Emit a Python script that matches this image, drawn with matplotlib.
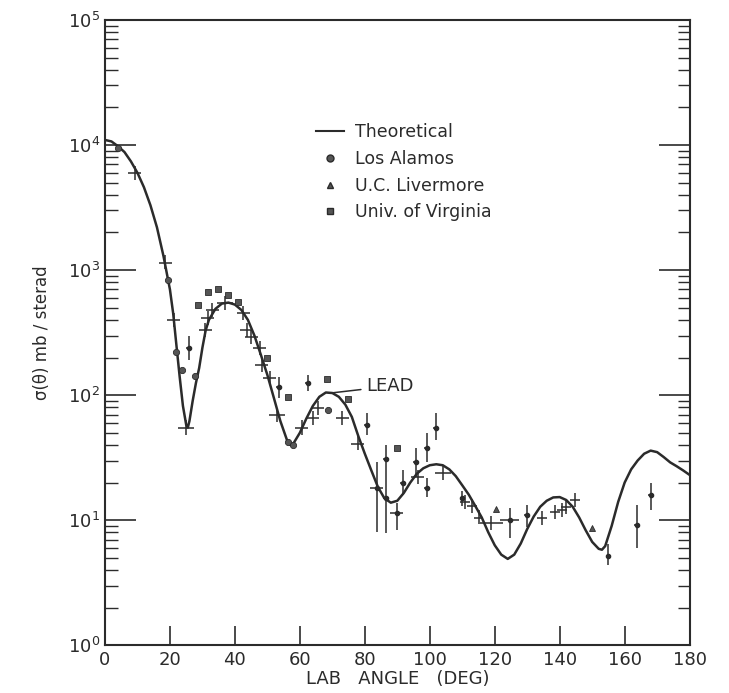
import matplotlib
matplotlib.use("Agg")
import matplotlib.pyplot as plt
from matplotlib.lines import Line2D
import numpy as np

# theoretical curve
theory_x = [0, 2, 4, 6, 8, 10, 12, 14, 16, 18, 20, 21, 22, 23, 24, 25, 25.5, 26, 27, 28, 29,
            30, 31, 32, 34, 36, 38, 40, 42, 44, 46, 48, 50, 52, 54, 56, 57, 58, 60, 62,
            64, 66, 68, 70, 72, 74, 76, 78, 80, 82, 84, 86, 88, 90, 92, 94, 96, 98, 100,
            102, 104, 106, 108, 110, 112, 114, 116, 118, 120, 122, 124, 126, 128, 130,
            132, 134, 136, 138, 140, 142, 144, 146, 148, 150, 152, 153, 154, 156, 158,
            160, 162, 164, 166, 168, 170, 172, 174, 176, 178, 180]
theory_y = [1.1e4, 1.07e4, 9.8e3, 8.8e3, 7.4e3, 6.0e3, 4.6e3, 3.3e3, 2.2e3, 1.3e3, 700,
            450, 250, 140, 82, 58, 55, 62, 90, 125, 165,
            240, 330, 400, 490, 540, 550, 530, 480, 400, 300, 210, 145, 95, 62, 44, 40, 41,
            50, 65, 82, 97, 105, 104, 97, 84, 67, 47, 34, 25, 18.5, 15, 13.8, 14.3, 16.5,
            20, 23.5, 26, 27.5, 28, 27.5, 25.5, 22.5, 19, 16, 13, 10.5, 8.0, 6.3, 5.3,
            4.9, 5.3, 6.5, 8.5, 10.7, 12.8, 14.3, 15.2, 15.3, 14.5, 12.8, 10.5, 8.3, 6.7,
            5.9, 5.8, 6.2, 9, 14, 20, 25.5, 30, 34, 36, 35, 32, 29, 27, 25, 23]

# Los Alamos (circles)
la_x = [4, 19.4, 22, 23.6, 27.7, 56.5, 58, 68.6]
la_y = [9.5e3, 830, 220, 160, 142, 42, 40, 76]

# U.C. Livermore (triangles)
ucl_x = [120.3, 150]
ucl_y = [12.3, 8.6]

# Univ. of Virginia (squares)
uva_x = [28.6, 31.7, 34.8, 37.8, 41, 50, 56.3, 68.3, 74.8, 89.8]
uva_y = [525, 670, 710, 630, 560, 200, 96, 134, 93, 38]

# points drawn as angular-resolution bars
bar_x = [9.2, 18.5, 21.2, 25, 30.8, 31.7, 33, 37, 42.5, 43.7, 45, 47.7, 48.3, 50.8,
         53, 60.6, 64, 65.5, 73, 77.8, 96.3, 104, 110.8, 113, 115, 119, 134.5, 138.5,
         140.6, 142, 144.6]
bar_y = [6000, 1150, 400, 55, 330, 415, 480, 545, 455, 330, 290, 240, 174, 137,
         69, 55, 66, 79, 66, 41, 22, 24, 13.9, 13, 10.5, 9.5, 10.4, 11.6,
         12, 12.7, 14.5]
bar_dx = [2, 2, 2, 2.5, 2, 2, 2, 2.5, 2, 2, 2, 2, 2, 2,
          2.5, 2, 2, 2, 2, 2, 2, 2.5, 1.5, 1.5, 1.5, 3.5, 1.5, 1.5,
          1.5, 1.5, 1.5]

# points with vertical error bars
err_x = [25.8, 53.5, 62.5, 80.6, 83.7, 86.5, 86.5, 89.8, 91.7, 95.7, 99, 99, 101.8,
         110, 124.6, 129.8, 155, 163.7, 168]
err_y = [240, 116, 125, 58, 18, 31, 15, 11.5, 20, 29, 38, 18, 55,
         15, 10, 11, 5.2, 9.1, 15.8]
err_lo = [190, 95, 108, 48, 8, 24, 7.9, 8.3, 16, 22, 29, 15.3, 44,
          13, 7.2, 8.8, 4.4, 6, 12]
err_hi = [300, 140, 145, 72, 29, 40, 24, 13.7, 25, 38, 50, 21.6, 72,
          17, 12.5, 13.2, 6.5, 13.2, 19.7]
err_dx = [0.8, 0.8, 0.8, 0.8, 2, 0.8, 0.8, 2, 0.8, 0.8, 0.8, 0.8, 0.8,
          0.8, 3, 0.8, 0.8, 0.8, 0.8]

ink = "#2b2b2b"

fig = plt.figure(figsize=(7.29, 6.93), dpi=100)
ax = fig.add_axes([0.144, 0.069, 0.802, 0.902])

ax.plot(theory_x, theory_y, color=ink, lw=1.8, zorder=3)

y = np.array(bar_y)
ax.errorbar(bar_x, bar_y, xerr=bar_dx, yerr=[y * 0.12, y * 0.14], fmt="none",
            ecolor=ink, elinewidth=1.1, capsize=0, zorder=2)

ye = np.array(err_y)
ax.errorbar(err_x, err_y, xerr=err_dx,
            yerr=[ye - np.array(err_lo), np.array(err_hi) - ye],
            fmt="o", ms=3, color=ink, ecolor=ink, elinewidth=1.1, capsize=0, zorder=4)

ax.plot(la_x, la_y, "o", ms=4.5, color="#555555", mec=ink, mew=0.6, zorder=4)
ax.plot(ucl_x, ucl_y, "^", ms=4.5, color="#555555", mec=ink, mew=0.6, zorder=4)
ax.plot(uva_x, uva_y, "s", ms=4, color="#555555", mec=ink, mew=0.6, zorder=4)

ax.annotate("LEAD", xy=(69.5, 104), xytext=(80.5, 118), fontsize=13, color=ink,
            va="center", ha="left",
            arrowprops=dict(arrowstyle="-", color=ink, lw=1.1, shrinkA=2, shrinkB=0))

handles = [
    Line2D([], [], color=ink, lw=1.5),
    Line2D([], [], ls="none", marker="o", ms=5, color="#555555", mec=ink),
    Line2D([], [], ls="none", marker="^", ms=5, color="#555555", mec=ink),
    Line2D([], [], ls="none", marker="s", ms=5, color="#555555", mec=ink),
]
labels = ["Theoretical", "Los Alamos", "U.C. Livermore", "Univ. of Virginia"]
ax.legend(handles, labels, loc="upper left", bbox_to_anchor=(0.335, 0.86),
          frameon=False, fontsize=12.5, handlelength=1.6, handletextpad=0.6,
          labelspacing=0.5, labelcolor=ink)

ax.set_yscale("log")
ax.set_xlim(0, 180)
ax.set_ylim(1, 1e5)
ax.set_xticks(np.arange(0, 181, 20))
ax.yaxis.set_minor_locator(matplotlib.ticker.LogLocator(subs=np.arange(2, 10)))
ax.yaxis.set_minor_formatter(matplotlib.ticker.NullFormatter())

ax.tick_params(axis="both", which="both", direction="in", colors=ink,
               labelsize=13, right=True, top=False)
ax.tick_params(axis="y", which="major", length=22, width=1.2)
ax.tick_params(axis="y", which="minor", length=9, width=1.0)
ax.tick_params(axis="x", which="major", length=14, width=1.2, pad=4)
for s in ax.spines.values():
    s.set_color(ink)
    s.set_linewidth(1.5)

ax.set_xlabel("LAB   ANGLE   (DEG)", fontsize=13, color=ink, labelpad=1)
ax.set_ylabel("σ(θ) mb / sterad", fontsize=12, color=ink, labelpad=12)

fig.savefig("out.png", dpi=100)
